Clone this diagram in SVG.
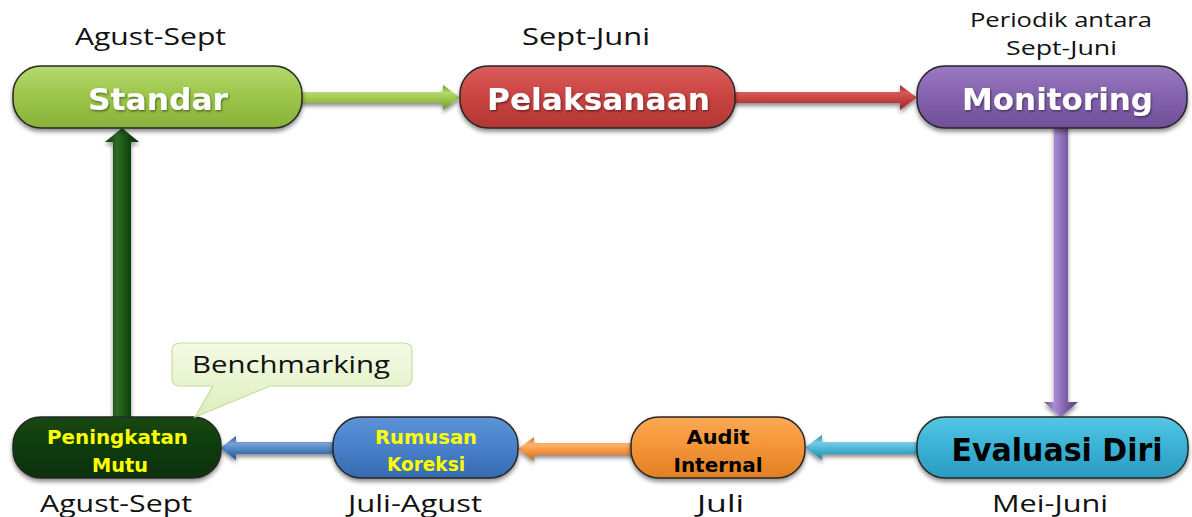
<svg xmlns="http://www.w3.org/2000/svg" width="1192" height="517" viewBox="0 0 1192 517">
<defs>
  <filter id="sh" x="-10%" y="-20%" width="120%" height="160%">
    <feDropShadow dx="0" dy="3" stdDeviation="2.2" flood-color="#000" flood-opacity="0.45"/>
  </filter>
  <filter id="tsh" x="-5%" y="-20%" width="110%" height="150%">
    <feDropShadow dx="1" dy="1.5" stdDeviation="0.8" flood-color="#000" flood-opacity="0.45"/>
  </filter>
  <linearGradient id="gGreen" x1="0" y1="0" x2="0" y2="1">
    <stop offset="0" stop-color="#B6D96E"/><stop offset="0.45" stop-color="#9DC74C"/><stop offset="1" stop-color="#88B238"/>
  </linearGradient>
  <linearGradient id="gRed" x1="0" y1="0" x2="0" y2="1">
    <stop offset="0" stop-color="#DA5E5C"/><stop offset="0.45" stop-color="#CC4543"/><stop offset="1" stop-color="#B33634"/>
  </linearGradient>
  <linearGradient id="gPurple" x1="0" y1="0" x2="0" y2="1">
    <stop offset="0" stop-color="#9A7BC2"/><stop offset="0.45" stop-color="#8564AE"/><stop offset="1" stop-color="#6F4F98"/>
  </linearGradient>
  <linearGradient id="gCyan" x1="0" y1="0" x2="0" y2="1">
    <stop offset="0" stop-color="#55C7E4"/><stop offset="0.45" stop-color="#3CB3D6"/><stop offset="1" stop-color="#2A9BC0"/>
  </linearGradient>
  <linearGradient id="gOrange" x1="0" y1="0" x2="0" y2="1">
    <stop offset="0" stop-color="#FBA955"/><stop offset="0.45" stop-color="#F5963A"/><stop offset="1" stop-color="#E07F22"/>
  </linearGradient>
  <linearGradient id="gBlue" x1="0" y1="0" x2="0" y2="1">
    <stop offset="0" stop-color="#5E93D7"/><stop offset="0.45" stop-color="#4A82CB"/><stop offset="1" stop-color="#356AAF"/>
  </linearGradient>
  <linearGradient id="gDark" x1="0" y1="0" x2="0" y2="1">
    <stop offset="0" stop-color="#164812"/><stop offset="0.45" stop-color="#0E3D0C"/><stop offset="1" stop-color="#083007"/>
  </linearGradient>
  <linearGradient id="gCallout" x1="0" y1="0" x2="0" y2="1">
    <stop offset="0" stop-color="#F4FAE6"/><stop offset="1" stop-color="#DDEFBC"/>
  </linearGradient>
  <linearGradient id="aGreen" x1="0" y1="0" x2="0" y2="1">
    <stop offset="0" stop-color="#6E9530"/><stop offset="0.3" stop-color="#B5D86C"/><stop offset="0.65" stop-color="#94C044"/><stop offset="1" stop-color="#6C932C"/>
  </linearGradient>
  <linearGradient id="aRed" x1="0" y1="0" x2="0" y2="1">
    <stop offset="0" stop-color="#962826"/><stop offset="0.3" stop-color="#D65A58"/><stop offset="0.65" stop-color="#C23C3A"/><stop offset="1" stop-color="#932826"/>
  </linearGradient>
  <linearGradient id="aCyan" x1="0" y1="0" x2="0" y2="1">
    <stop offset="0" stop-color="#22849F"/><stop offset="0.3" stop-color="#74CDE6"/><stop offset="0.65" stop-color="#40ACCC"/><stop offset="1" stop-color="#22829E"/>
  </linearGradient>
  <linearGradient id="aOrange" x1="0" y1="0" x2="0" y2="1">
    <stop offset="0" stop-color="#C46A16"/><stop offset="0.3" stop-color="#FAB46E"/><stop offset="0.65" stop-color="#F38D38"/><stop offset="1" stop-color="#C06816"/>
  </linearGradient>
  <linearGradient id="aBlue" x1="0" y1="0" x2="0" y2="1">
    <stop offset="0" stop-color="#27528A"/><stop offset="0.3" stop-color="#78A3DA"/><stop offset="0.65" stop-color="#467AB8"/><stop offset="1" stop-color="#26508A"/>
  </linearGradient>
  <linearGradient id="aPurple" x1="0" y1="0" x2="1" y2="0">
    <stop offset="0" stop-color="#6E5196"/><stop offset="0.3" stop-color="#A98BD6"/><stop offset="0.65" stop-color="#7D5FA6"/><stop offset="1" stop-color="#563E78"/>
  </linearGradient>
  <linearGradient id="aDark" x1="0" y1="0" x2="1" y2="0">
    <stop offset="0" stop-color="#083208"/><stop offset="0.35" stop-color="#2E6A26"/><stop offset="0.7" stop-color="#0F4A0D"/><stop offset="1" stop-color="#052405"/>
  </linearGradient>
  <style>
    .pill { stroke:#262626; stroke-width:1.5; filter:url(#sh); }
    .arrow { filter:url(#sh); }
    .big { font-family:"DejaVu Sans","Liberation Sans",sans-serif; font-weight:bold; font-size:31px; text-anchor:middle; }
    .small { font-family:"DejaVu Sans","Liberation Sans",sans-serif; font-weight:bold; font-size:20px; text-anchor:middle; }
    .white { fill:#FFFFFF; filter:url(#tsh); }
    .yellow { fill:#FFFF00; }
    .black { fill:#000000; }
    .lbl { font-family:"Open Sans","Noto Sans","Liberation Sans",sans-serif; font-size:24px; fill:#111111; text-anchor:middle; }
    .lbl2 { font-family:"Open Sans","Noto Sans","Liberation Sans",sans-serif; font-size:20px; fill:#111111; text-anchor:middle; }
  </style>
</defs>
<rect width="1192" height="517" fill="#FFFFFF"/>

<!-- connectors -->
<g id="connectors">
  <polygon class="arrow" fill="url(#aGreen)" points="295,92 443,92 443,85 460,97.5 443,110 443,103 295,103"/>
  <polygon class="arrow" fill="url(#aRed)" points="728,92 900,92 900,85 917,97.5 900,110 900,103 728,103"/>
  <polygon class="arrow" fill="url(#aPurple)" points="1054,122 1068,122 1068,402 1078,402 1061,417 1044,402 1054,402"/>
  <polygon class="arrow" fill="url(#aCyan)" points="925,442 822,442 822,435 805,447.5 822,460 822,454 925,454"/>
  <polygon class="arrow" fill="url(#aOrange)" points="640,443 534,443 534,437 518,449 534,461 534,455 640,455"/>
  <polygon class="arrow" fill="url(#aBlue)" points="340,442 236,442 236,436 220,448 236,460 236,454 340,454"/>
  <polygon class="arrow" fill="url(#aDark)" points="113,425 113,142 105,142 122,128 139,142 131,142 131,425"/>
</g>

<!-- nodes -->
<g id="node-standar">
  <rect class="pill" x="13" y="66" width="289" height="62" rx="28" ry="28" fill="url(#gGreen)"/>
  <text class="big white" x="158" y="110" textLength="140" lengthAdjust="spacingAndGlyphs">Standar</text>
</g>
<g id="node-pelaksanaan">
  <rect class="pill" x="460" y="66" width="275" height="62" rx="28" ry="28" fill="url(#gRed)"/>
  <text class="big white" x="598.5" y="110" textLength="223" lengthAdjust="spacingAndGlyphs">Pelaksanaan</text>
</g>
<g id="node-monitoring">
  <rect class="pill" x="917" y="66" width="270" height="62" rx="28" ry="28" fill="url(#gPurple)"/>
  <text class="big white" x="1057.5" y="110" textLength="191" lengthAdjust="spacingAndGlyphs">Monitoring</text>
</g>
<g id="node-evaluasi">
  <rect class="pill" x="917" y="417" width="271" height="61" rx="28" ry="28" fill="url(#gCyan)"/>
  <text class="big black" x="1057" y="461" style="font-size:32px" textLength="211" lengthAdjust="spacingAndGlyphs">Evaluasi Diri</text>
</g>
<g id="node-audit">
  <rect class="pill" x="631" y="417" width="174" height="61" rx="28" ry="28" fill="url(#gOrange)"/>
  <text class="small black" x="718" y="444" textLength="63" lengthAdjust="spacingAndGlyphs">Audit</text>
  <text class="small black" x="718" y="472" textLength="89" lengthAdjust="spacingAndGlyphs">Internal</text>
</g>
<g id="node-rumusan">
  <rect class="pill" x="333" y="417" width="185" height="61" rx="28" ry="28" fill="url(#gBlue)"/>
  <text class="small yellow" x="426" y="444" textLength="102" lengthAdjust="spacingAndGlyphs">Rumusan</text>
  <text class="small yellow" x="426" y="471" textLength="78" lengthAdjust="spacingAndGlyphs">Koreksi</text>
</g>
<g id="node-peningkatan">
  <rect class="pill" x="13" y="417" width="208" height="61" rx="28" ry="28" fill="url(#gDark)"/>
  <text class="small yellow" x="117.5" y="444" textLength="141" lengthAdjust="spacingAndGlyphs">Peningkatan</text>
  <text class="small yellow" x="120" y="472" textLength="56" lengthAdjust="spacingAndGlyphs">Mutu</text>
</g>
<g id="callout-benchmarking">
  <path d="M180,343 H404 Q412,343 412,351 V378 Q412,386 404,386 H270 L195,417 L213,386 H180 Q172,386 172,378 V351 Q172,343 180,343 Z" fill="url(#gCallout)" stroke="#C6DC9C" stroke-width="1.2"/>
  <text class="lbl" x="291" y="373" textLength="198" lengthAdjust="spacingAndGlyphs">Benchmarking</text>
</g>

<!-- time labels -->
<g id="labels">
  <text class="lbl" x="150.5" y="45" textLength="151" lengthAdjust="spacingAndGlyphs">Agust-Sept</text>
  <text class="lbl" x="586" y="45" textLength="128" lengthAdjust="spacingAndGlyphs">Sept-Juni</text>
  <text class="lbl2" x="1061" y="27" textLength="182" lengthAdjust="spacingAndGlyphs">Periodik antara</text>
  <text class="lbl2" x="1061.5" y="55" textLength="111" lengthAdjust="spacingAndGlyphs">Sept-Juni</text>
  <text class="lbl" x="116" y="512" textLength="152" lengthAdjust="spacingAndGlyphs">Agust-Sept</text>
  <text class="lbl" x="415" y="512" textLength="134" lengthAdjust="spacingAndGlyphs">Juli-Agust</text>
  <text class="lbl" x="720.5" y="512" textLength="47" lengthAdjust="spacingAndGlyphs">Juli</text>
  <text class="lbl" x="1050" y="512" textLength="116" lengthAdjust="spacingAndGlyphs">Mei-Juni</text>
</g>
</svg>
